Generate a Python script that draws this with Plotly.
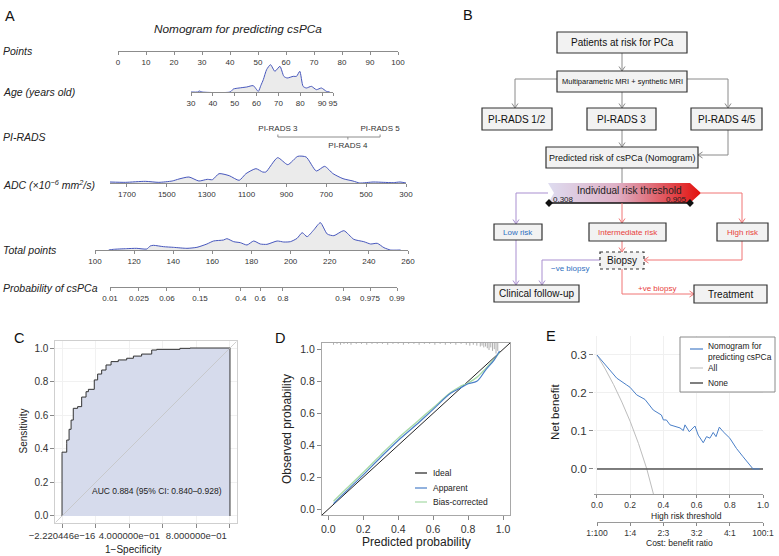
import plotly.graph_objects as go

W, H = 779, 556
FONT = "Liberation Sans, Arial, Helvetica, sans-serif"


def fx(p):
    return p / W


def fy(p):
    return 1 - p / H


# ======================= DATA =======================
# ---- Panel A: nomogram ----
nomo_title = "Nomogram for predicting csPCa"
points_ticks = [0, 10, 20, 30, 40, 50, 60, 70, 80, 90, 100]

age_ticks = [30, 40, 50, 60, 70, 80, 90, 95]
age_x = [30, 33, 33.8, 35, 47.9, 49.4, 52, 55.5, 58.5, 60.8, 62, 63.1, 64.6, 66.4, 68.4,
         70.7, 72.5, 74, 76.8, 78.3, 79.8, 81.3, 82.8, 85.1, 87.4, 89.7, 92, 93.5]
age_density = [0, 0, 3, 0, 0, 9, 12, 15, 19, 2, 20, 37, 67, 82, 62,
                77, 47, 42, 47, 47, 62, 17, 12, 17, 7, 12, 2, 0]

pirads_labels = ["PI-RADS 3", "PI-RADS 4", "PI-RADS 5"]
pirads_points = [57.1, 82.1, 93.6]

adc_ticks = [1700, 1500, 1300, 1100, 900, 700, 500, 300]
adc_x = [1785, 1708, 1608, 1540, 1473, 1439, 1389, 1339, 1297, 1271, 1238, 1187, 1137, 1103,
         1053, 1019, 1003, 944, 893, 843, 801, 750, 708, 666, 616, 566, 532, 465, 414, 364, 330, 300]
adc_density = [3, 2, 5, 2, 6, 12, 18, 6, 11, 10, 28, 22, 8, 28,
               43, 33, 33, 76, 55, 80, 78, 36, 50, 28, 13, 6, 0, 3, 2, 1, 3, 0]

total_ticks = [100, 120, 140, 160, 180, 200, 220, 240, 260]
total_x = [107, 109.4, 116.2, 121.3, 126.5, 128.2, 129.9, 135, 140.1, 147, 152.1, 157.2, 160.6,
           165.7, 167.4, 170.9, 174.3, 177.7, 181.1, 184.5, 187.9, 193.1, 196.5, 199.9, 203.3,
           205.9, 208.4, 211.8, 215.2, 218.7, 222.1, 227.2, 232.3, 237.4, 240.9, 244.3, 247.7,
           251.1, 256.2]
total_density = [0, 2, 4, 5, 3, 12, 14, 10, 8, 5, 8, 18, 27,
                 30, 34, 25, 22, 15, 27, 18, 17, 27, 24, 25, 35,
                 52, 40, 60, 82, 48, 43, 58, 32, 25, 18, 20, 7,
                 0, 0]

prob_labels = ["0.01", "0.025", "0.06", "0.15", "0.4", "0.6", "0.8", "0.94", "0.975", "0.99"]
prob_points = [107.7, 122.5, 136.8, 153.7, 174.6, 184.4, 196.1, 226.8, 240.6, 254.4]

# ---- Panel B: flowchart ----
thresholds = [0.308, 0.905]

# ---- Panel C: ROC ----
roc_fpr = [0, 0, 0.028, 0.028, 0.042, 0.054, 0.067, 0.093, 0.117, 0.117, 0.143, 0.157, 0.192,
           0.212, 0.236, 0.262, 0.292, 0.335, 0.385, 0.425, 0.474, 0.534, 0.564, 0.702, 0.762, 1.0]
roc_tpr = [0, 0.373, 0.38, 0.43, 0.452, 0.516, 0.571, 0.641, 0.651, 0.69, 0.708, 0.74, 0.754,
           0.81, 0.845, 0.869, 0.899, 0.919, 0.929, 0.939, 0.952, 0.964, 0.988, 0.992, 0.998, 1.0]
roc_xtick_vals = [0, 0.4, 0.8]
roc_xtick_text = ["\u22122.220446e\u221216", "4.000000e\u221201", "8.000000e\u221201"]
roc_xminor_vals = [0.2, 0.6, 1.0]
roc_ytick_vals = [0, 0.2, 0.4, 0.6, 0.8, 1.0]
auc_text = "AUC 0.884 (95% CI: 0.840\u20130.928)"

# ---- Panel D: calibration ----
cal_pred = [0.03, 0.1, 0.2, 0.3, 0.4, 0.5, 0.6, 0.7, 0.75, 0.8, 0.85, 0.9, 0.95, 0.98]
cal_apparent = [0.035, 0.11, 0.215, 0.325, 0.43, 0.525, 0.625, 0.725, 0.755, 0.785, 0.80, 0.87, 0.935, 0.99]
cal_bias = [0.05, 0.125, 0.23, 0.34, 0.445, 0.54, 0.635, 0.73, 0.765, 0.79, 0.825, 0.88, 0.94, 0.98]
rug_p = [0.03, 0.05, 0.07, 0.09, 0.11, 0.13, 0.16, 0.19, 0.22, 0.25, 0.28, 0.31, 0.34, 0.37, 0.40,
         0.43, 0.46, 0.49, 0.52, 0.55, 0.58, 0.61, 0.64, 0.67, 0.70, 0.73, 0.76, 0.79, 0.81, 0.83,
         0.85, 0.87, 0.88, 0.89, 0.90, 0.91, 0.92, 0.93, 0.94, 0.95, 0.96, 0.97]
rug_n = [2, 1, 2, 1, 1, 2, 1, 1, 2, 1, 1, 1, 2, 1, 1,
         2, 1, 1, 2, 1, 1, 2, 1, 2, 1, 2, 1, 2, 3, 2,
         3, 4, 3, 5, 4, 6, 8, 5, 9, 7, 12, 9]
cal_ticks = [0, 0.2, 0.4, 0.6, 0.8, 1.0]

# ---- Panel E: decision curve ----
dca_t = [0, 0.058, 0.119, 0.179, 0.199, 0.239, 0.289, 0.339, 0.388, 0.40, 0.418, 0.44, 0.48, 0.50,
         0.52, 0.53, 0.556, 0.59, 0.61, 0.64, 0.66, 0.68, 0.70, 0.717, 0.737, 0.76, 0.80, 0.84,
         0.88, 0.92, 0.94, 0.98]
dca_nb = [0.30, 0.27, 0.239, 0.221, 0.215, 0.195, 0.183, 0.155, 0.142, 0.129, 0.129, 0.116, 0.111,
          0.108, 0.101, 0.116, 0.098, 0.113, 0.089, 0.069, 0.085, 0.081, 0.096, 0.085, 0.11, 0.098,
          0.081, 0.054, 0.032, 0.011, 0.0, 0.0]
all_t = [0, 0.05, 0.1, 0.15, 0.2, 0.25, 0.3, 0.34]
all_nb = [0.30, 0.263, 0.222, 0.176, 0.125, 0.067, 0.0, -0.066]
none_t = [0, 1.0]
none_nb = [0, 0]
dca_xticks = [0, 0.2, 0.4, 0.6, 0.8, 1.0]
dca_yticks = [0, 0.1, 0.2, 0.3]
cost_ticks = ["1:100", "1:4", "2:3", "3:2", "4:1", "100:1"]
dca_names = ["Nomogram for<br>predicting csPCa", "All", "None"]

# ======================= FIGURE =======================
fig = go.Figure()
lay = dict(width=W, height=H, margin=dict(l=0, r=0, t=0, b=0, pad=0, autoexpand=False),
           paper_bgcolor="white", plot_bgcolor="rgba(0,0,0,0)", showlegend=False,
           font=dict(family=FONT, color="#222"))
annots = []
shapes = []


def axname(n, kind):
    return kind if n == 1 else f"{kind}{n}"


def xax(n, dom, rng, **kw):
    d = dict(domain=[fx(dom[0]), fx(dom[1])], range=rng, anchor=axname(n, "y"),
             showgrid=False, zeroline=False, fixedrange=True, automargin=False, tickangle=0)
    d.update(kw)
    lay[axname(n, "xaxis")] = d


def yax(n, dom, rng, **kw):
    d = dict(domain=[fy(dom[0]), fy(dom[1])], range=rng, anchor=axname(n, "x"),
             showgrid=False, zeroline=False, fixedrange=True, automargin=False, tickangle=0)
    d.update(kw)
    lay[axname(n, "yaxis")] = d


def ref(n):
    return dict(xaxis=axname(n, "x"), yaxis=axname(n, "y"))


def txt(x, y, s, size, color="#222", xanchor="center", italic=False, angle=0):
    annots.append(dict(x=fx(x), y=fy(y), xref="paper", yref="paper", text=s, showarrow=False,
                       xanchor=xanchor, yanchor="middle", textangle=angle,
                       font=dict(size=size, color=color, family=FONT,
                                 style="italic" if italic else "normal")))


def dummy(n):
    fig.add_trace(go.Scatter(x=[None], y=[None], mode="markers", hoverinfo="skip", **ref(n)))


# ---------------- Panel A ----------------
nom_ax = dict(showline=True, linecolor="#8c8c8c", linewidth=1, ticks="outside", ticklen=3,
              tickcolor="#8c8c8c", tickfont=dict(size=8, color="#333", family=FONT))
dens_line = dict(color="#4757bd", width=1, shape="spline", smoothing=0.6)
dens_fill = "#ebebeb"

xax(1, (118, 398), [0, 100], tickvals=points_ticks, **nom_ax)
yax(1, (51, 50), [0, 1], visible=False)
dummy(1)

xax(2, (191, 333), [30, 95], tickvals=age_ticks, **nom_ax)
yax(2, (92, 62), [0, 90], visible=False)
fig.add_trace(go.Scatter(x=age_x, y=age_density, mode="lines", fill="tozeroy", fillcolor=dens_fill,
                         line=dens_line, **ref(2)))

xax(3, (118, 398), [0, 100], visible=False)
yax(3, (147, 127), [-1, 1], visible=False)
fig.add_trace(go.Scatter(x=[min(pirads_points), max(pirads_points)], y=[0, 0], mode="lines",
                         line=dict(color="#8c8c8c", width=1), **ref(3)))
pir_side = [1, -1, 1]
tx, ty = [], []
for p, s in zip(pirads_points, pir_side):
    tx += [p, p, None]
    ty += [0, 0.25 * s, None]
fig.add_trace(go.Scatter(x=tx, y=ty, mode="lines", line=dict(color="#8c8c8c", width=1), **ref(3)))
fig.add_trace(go.Scatter(x=pirads_points, y=[0.8 if s > 0 else -0.9 for s in pir_side],
                         mode="text", text=pirads_labels, textposition="middle center",
                         cliponaxis=False, textfont=dict(size=8, color="#333", family=FONT), **ref(3)))

xax(4, (110, 406), [1785, 300], tickvals=adc_ticks, **nom_ax)
yax(4, (183, 153), [0, 90], visible=False)
fig.add_trace(go.Scatter(x=adc_x, y=adc_density, mode="lines", fill="tozeroy", fillcolor=dens_fill,
                         line=dens_line, **ref(4)))

xax(5, (95, 408), [100, 260], tickvals=total_ticks, **nom_ax)
yax(5, (250, 220), [0, 90], visible=False)
fig.add_trace(go.Scatter(x=total_x, y=total_density, mode="lines", fill="tozeroy", fillcolor=dens_fill,
                         line=dens_line, **ref(5)))

xax(6, (110, 397), [prob_points[0], prob_points[-1]], tickvals=prob_points, ticktext=prob_labels, **nom_ax)
yax(6, (287, 286), [0, 1], visible=False)
dummy(6)

txt(238, 29, nomo_title, 11.8, italic=True)
row_y = [51, 92, 137, 185, 250, 288]
row_txt = ["Points", "Age (years old)", "PI-RADS", "ADC (×10<sup>−6</sup> mm<sup>2</sup>/s)",
           "Total points", "Probability of csPCa"]
for yy, s in zip(row_y, row_txt):
    txt(1, yy, s, 10.5, xanchor="left", italic=True)

# ---------------- Panel B (flowchart) ----------------
xax(7, (465, 779), [465, 779], visible=False)
yax(7, (320, 0), [320, 0], visible=False)
grey, lav, red = "#8a8a8a", "#a98fd0", "#f07575"
blue_t, red_t = "#2f6fc0", "#e8413c"

# gradient threshold arrow
fig.add_trace(go.Scatter(x=[548, 690, 701, 690, 548, 554, 548], y=[183, 183, 193, 203, 203, 193, 183],
                         mode="lines", line=dict(width=0), fill="toself",
                         fillgradient=dict(type="horizontal",
                                           colorscale=[[0, "#dedcf0"], [0.45, "#deb0c6"], [1, "#e3100c"]]),
                         **ref(7)))
fig.add_trace(go.Scatter(x=[549, 690], y=[203, 203], mode="lines+markers",
                         line=dict(color="#111", width=1.3),
                         marker=dict(symbol="diamond", size=6, color="#111"), **ref(7)))
annots.append(dict(x=629.5, y=190, xref="x7", yref="y7", text="Individual risk threshold", showarrow=False,
                   font=dict(size=10, color="#222", family=FONT)))
for xv, v in zip([563, 676.5], thresholds):
    annots.append(dict(x=xv, y=199, xref="x7", yref="y7", text=f"{v:.3f}", showarrow=False,
                       font=dict(size=8, color="#222", family=FONT)))

conns = [
    ([(622, 53), (622, 71)], grey, True),
    ([(557, 79), (515, 79), (515, 108)], grey, True),
    ([(687, 79), (728, 79), (728, 108)], grey, True),
    ([(622, 92), (622, 108)], grey, True),
    ([(622, 130), (622, 147)], grey, True),
    ([(728, 130), (728, 155), (698, 155)], grey, True),
    ([(622, 168), (622, 183)], grey, False),
    ([(548, 193), (516, 193), (516, 224)], lav, True),
    ([(622, 203), (622, 223)], red, True),
    ([(701, 193), (742, 193), (742, 223)], red, True),
    ([(516, 240), (516, 285)], lav, True),
    ([(622, 241), (622, 252)], red, True),
    ([(742, 241), (742, 260), (644, 260)], red, True),
    ([(600, 260), (542, 260), (542, 285)], lav, True),
    ([(622, 269), (622, 294), (694, 294)], red, True),
]
for pts, col, arrow in conns:
    path = "M " + " L ".join(f"{a},{b}" for a, b in pts)
    shapes.append(dict(type="path", path=path, xref="x7", yref="y7", line=dict(color=col, width=1)))
    if arrow:
        (xa, ya), (xb, yb) = pts[-2], pts[-1]
        m = max(abs(xb - xa), abs(yb - ya))
        dx, dy = (xb - xa) / m, (yb - ya) / m
        px_, py_ = -dy, dx
        head = (f"M {xb - 4.5 * dx + 3 * px_},{yb - 4.5 * dy + 3 * py_} L {xb},{yb} "
                f"L {xb - 4.5 * dx - 3 * px_},{yb - 4.5 * dy - 3 * py_}")
        shapes.append(dict(type="path", path=head, xref="x7", yref="y7", line=dict(color=col, width=1)))

boxes = [
    (557, 32, 687, 53, "Patients at risk for PCa", 10, "#111", "solid"),
    (557, 71, 687, 92, "Multiparametric MRI + synthetic MRI", 7.5, "#111", "solid"),
    (482, 108, 552, 130, "PI-RADS 1/2", 10, "#111", "solid"),
    (587, 108, 656, 130, "PI-RADS 3", 10, "#111", "solid"),
    (691, 108, 762, 130, "PI-RADS 4/5", 10, "#111", "solid"),
    (546, 147, 698, 168, "Predicted risk of csPCa (Nomogram)", 9, "#111", "solid"),
    (494, 224, 542, 240, "Low risk", 8, blue_t, "solid"),
    (589, 223, 666, 241, "Intermediate risk", 8, red_t, "solid"),
    (717, 223, 768, 241, "High risk", 8, red_t, "solid"),
    (600, 252, 644, 269, "Biopsy", 10, "#111", "dot"),
    (494, 285, 579, 302, "Clinical follow-up", 10, "#111", "solid"),
    (694, 285, 767, 303, "Treatment", 10, "#111", "solid"),
]
for x0, y0, x1, y1, s, sz, col, dash in boxes:
    shapes.append(dict(type="rect", x0=x0, y0=y0, x1=x1, y1=y1, xref="x7", yref="y7",
                       fillcolor="#f2f2f2", line=dict(color="#333", width=1.2, dash=dash)))
    annots.append(dict(x=(x0 + x1) / 2, y=(y0 + y1) / 2, xref="x7", yref="y7", text=s, showarrow=False,
                       font=dict(size=sz, color=col, family=FONT)))
annots.append(dict(x=570, y=268, xref="x7", yref="y7", text="\u2212ve biopsy", showarrow=False,
                   font=dict(size=8, color=blue_t, family=FONT)))
annots.append(dict(x=657, y=288, xref="x7", yref="y7", text="+ve biopsy", showarrow=False,
                   font=dict(size=8, color=red_t, family=FONT)))

# ---------------- Panel C (ROC) ----------------
xax(8, (55.3, 236.7), [-0.04, 1.04], tickvals=roc_xtick_vals, ticktext=roc_xtick_text,
    ticks="outside", ticklen=4, tickcolor="#888", showline=True, mirror=True, linecolor="#cfcfcf",
    showgrid=True, gridcolor="#f1f1f1", tickfont=dict(size=9.5, color="#333", family=FONT),
    minor=dict(tickvals=roc_xminor_vals, ticks="outside", ticklen=4, tickcolor="#888",
               showgrid=True, gridcolor="#f1f1f1"))
yax(8, (522.7, 341.3), [-0.04, 1.04], tickvals=roc_ytick_vals, tickformat=".1f",
    ticks="outside", ticklen=4, tickcolor="#888", showline=True, mirror=True, linecolor="#cfcfcf",
    showgrid=True, gridcolor="#f1f1f1", tickfont=dict(size=10, color="#333", family=FONT))
fig.add_trace(go.Scatter(x=roc_fpr + [1.0, 0], y=roc_tpr + [0, 0], mode="lines", fill="toself",
                         fillcolor="#d6dbec", line=dict(width=0, shape="vh"), **ref(8)))
shapes.append(dict(type="line", xref="x8", yref="y8", x0=-0.04, y0=-0.04, x1=1.04, y1=1.04,
                   line=dict(color="#c4c4c4", width=0.8)))
fig.add_trace(go.Scatter(x=roc_fpr + [1.0], y=roc_tpr + [0], mode="lines",
                         line=dict(color="#333", width=1, shape="vh"), **ref(8)))
txt(157, 491, auc_text, 8.5, color="#222")
txt(133, 549, "1\u2212Specificity", 10)
txt(22.5, 431, "Sensitivity", 10, angle=-90)

# ---------------- Panel D (calibration) ----------------
d_ax = dict(ticks="outside", ticklen=4, tickcolor="#888", showline=True, mirror=True, linecolor="#a8a8a8",
            tickvals=cal_ticks, tickformat=".1f", tickfont=dict(size=10.5, color="#333", family=FONT))
xax(9, (322, 510), [-0.036, 1.04], **d_ax)
yax(9, (515, 343), [-0.036, 1.04], **d_ax)
rx, ry = [], []
for p, n in zip(rug_p, rug_n):
    rx += [p, p, None]
    ry += [1.04, 1.04 - 0.0055 * n, None]
fig.add_trace(go.Scatter(x=rx, y=ry, mode="lines", line=dict(color="#9a9a9a", width=0.8), **ref(9)))
fig.add_trace(go.Scatter(x=[-0.036, 1.04], y=[-0.036, 1.04], mode="lines",
                         line=dict(color="#222", width=1), **ref(9)))
fig.add_trace(go.Scatter(x=cal_pred, y=cal_bias, mode="lines",
                         line=dict(color="#a6d9a6", width=1.3, shape="spline"), **ref(9)))
fig.add_trace(go.Scatter(x=cal_pred, y=cal_apparent, mode="lines",
                         line=dict(color="#4a7fc8", width=1.2, shape="spline"), **ref(9)))
for yy, col, s in [(473, "#222", "Ideal"), (488, "#4a7fc8", "Apparent"), (502, "#a6d9a6", "Bias-corrected")]:
    shapes.append(dict(type="line", xref="paper", yref="paper", x0=fx(415), x1=fx(427), y0=fy(yy), y1=fy(yy),
                       line=dict(color=col, width=1.2)))
    txt(431, yy, s, 8.5, xanchor="left")
txt(416, 542, "Predicted probability", 12)
txt(287, 429, "Observed probability", 12, angle=-90)

# ---------------- Panel E (DCA) ----------------
xax(10, (594, 763), [-0.018, 1.0], tickvals=dca_xticks, tickformat=".1f", ticks="outside", ticklen=3,
    tickcolor="#888", showline=True, linecolor="#9a9a9a", showgrid=True, gridcolor="#f0f0f0",
    tickfont=dict(size=8.5, color="#333", family=FONT))
yax(10, (494, 336), [-0.066, 0.35], tickvals=dca_yticks, tickformat=".1f", ticks="outside", ticklen=4,
    tickcolor="#888", showgrid=True, gridcolor="#f0f0f0", tickfont=dict(size=11.5, color="#333", family=FONT))
fig.add_trace(go.Scatter(x=all_t, y=all_nb, mode="lines", line=dict(color="#bdbdbd", width=1), **ref(10)))
fig.add_trace(go.Scatter(x=none_t, y=none_nb, mode="lines", line=dict(color="#555", width=1.5), **ref(10)))
fig.add_trace(go.Scatter(x=dca_t, y=dca_nb, mode="lines", line=dict(color="#4a7fc8", width=1), **ref(10)))

xax(11, (597, 763), [0, 1], tickvals=dca_xticks, ticktext=cost_ticks, ticks="outside", ticklen=3,
    tickcolor="#888", showline=True, linecolor="#9a9a9a", tickfont=dict(size=8.5, color="#333", family=FONT))
yax(11, (522, 521), [0, 1], visible=False)
dummy(11)

txt(686, 515.5, "High risk threshold", 8.5)
txt(679, 543, "Cost: benefit ratio", 8.5)
txt(555, 412, "Net benefit", 11.5, angle=-90)

shapes.append(dict(type="rect", xref="paper", yref="paper", x0=fx(680), x1=fx(775), y0=fy(392), y1=fy(337),
                   fillcolor="white", line=dict(color="#8a8a8a", width=1)))
for yy, ty_, col, w, s in [(349, 351, "#4a7fc8", 1.2, dca_names[0]), (368, 368, "#bdbdbd", 1, dca_names[1]),
                           (383, 383, "#555", 1.5, dca_names[2])]:
    shapes.append(dict(type="line", xref="paper", yref="paper", x0=fx(690), x1=fx(703), y0=fy(yy), y1=fy(yy),
                       line=dict(color=col, width=w)))
    annots.append(dict(x=fx(706), y=fy(ty_), xref="paper", yref="paper", text=s, showarrow=False,
                       xanchor="left", yanchor="middle", align="left",
                       font=dict(size=8.4, color="#222", family=FONT)))

# ---------------- panel letters ----------------
for x, y, s in [(10, 16, "A"), (468, 15, "B"), (19, 338, "C"), (280, 338, "D"), (551, 336, "E")]:
    txt(x, y, s, 14.5, color="#111")

lay["annotations"] = annots
lay["shapes"] = shapes
fig.update_layout(**lay)
fig.write_html("out.html", config={"displayModeBar": False, "staticPlot": True},
               post_script="document.body.style.margin='0px';document.body.style.overflow='hidden';")
